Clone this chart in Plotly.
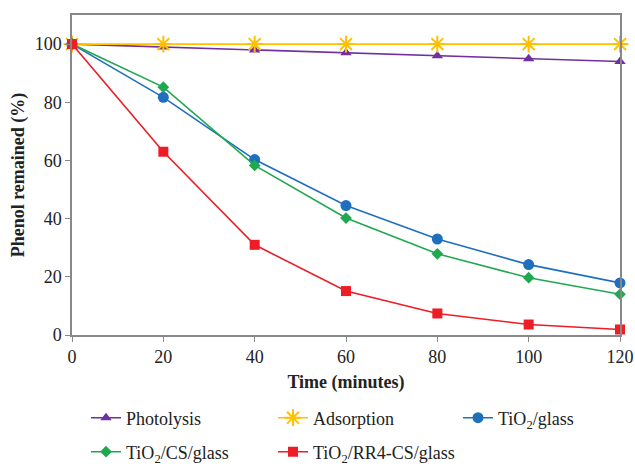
import plotly.graph_objects as go

time_min = [0, 20, 40, 60, 80, 100, 120]
photolysis = [100, 99, 98, 97, 96, 95, 94]
adsorption = [100, 100, 100, 100, 100, 100, 100]
tio2_glass = [100, 81.7, 60.3, 44.5, 33.0, 24.2, 17.9]
tio2_cs_glass = [100, 85.2, 58.3, 40.2, 27.9, 19.7, 14.0]
tio2_rr4_cs_glass = [100, 63.0, 31.0, 15.1, 7.4, 3.6, 1.9]

series = [
    ("Photolysis", photolysis, "#7030A0", "triangle-up", 10),
    ("Adsorption", adsorption, "#FFC000", "asterisk-open", 14),
    ("TiO<sub>2</sub>/glass", tio2_glass, "#1F6FBF", "circle", 11),
    ("TiO<sub>2</sub>/CS/glass", tio2_cs_glass, "#20A850", "diamond", 9),
    ("TiO<sub>2</sub>/RR4-CS/glass", tio2_rr4_cs_glass, "#EE1C25", "square", 10),
]

W, H = 635, 466
PL, PR, PT, PB = 72, 620, 15, 335  # plot area in window pixels
PW, PH = PR - PL, PB - PT

legend_pos = [(90, 418), (277, 418), (462, 418), (90, 452), (277, 452)]

font_family = "Liberation Serif"
fig = go.Figure()
layout_legends = {}
for i, (name, vals, color, sym, size) in enumerate(series):
    marker = dict(symbol=sym, size=size, color=color)
    if sym == "asterisk-open":
        marker["line"] = dict(color=color, width=2)
    lname = "legend" if i == 0 else f"legend{i + 1}"
    fig.add_trace(go.Scatter(
        x=time_min, y=vals, name=name, mode="lines+markers", legend=lname,
        line=dict(color=color, width=1.6), marker=marker, cliponaxis=False,
    ))
    lx, ly = legend_pos[i]
    layout_legends[lname] = dict(
        orientation="h", xanchor="left", yanchor="middle",
        x=(lx - 4 - PL) / PW, y=-(ly - PB) / PH,
        font=dict(family=font_family, size=18, color="#222"),
        itemwidth=30, bgcolor="rgba(0,0,0,0)",
    )

fig.update_layout(
    width=W, height=H,
    margin=dict(l=PL, r=W - PR, t=PT, b=H - PB, autoexpand=False),
    paper_bgcolor="white", plot_bgcolor="white",
    font=dict(family=font_family, size=18, color="#222"),
    showlegend=True,
    xaxis=dict(
        range=[0, 120], tickvals=[0, 20, 40, 60, 80, 100, 120],
        showgrid=False, zeroline=False, automargin=False,
        showline=True, linecolor="#888", linewidth=1.5, mirror=True,
        ticks="outside", ticklen=5, tickcolor="#888",
        ticklabeloverflow="allow",
        title=dict(text="<b>Time (minutes)</b>", font=dict(size=18), standoff=9),
    ),
    yaxis=dict(
        range=[0, 110], tickvals=[0, 20, 40, 60, 80, 100],
        showgrid=False, zeroline=False, automargin=False,
        showline=True, linecolor="#888", linewidth=1.5, mirror=True,
        ticks="outside", ticklen=5, tickcolor="#888",
        title=dict(text="<b>Phenol remained (%)</b>", font=dict(size=18), standoff=5),
    ),
    **layout_legends,
)

fig.write_html(
    "out.html",
    config={"displayModeBar": False},
    post_script="document.body.style.margin='0';document.body.style.overflow='hidden';",
)
